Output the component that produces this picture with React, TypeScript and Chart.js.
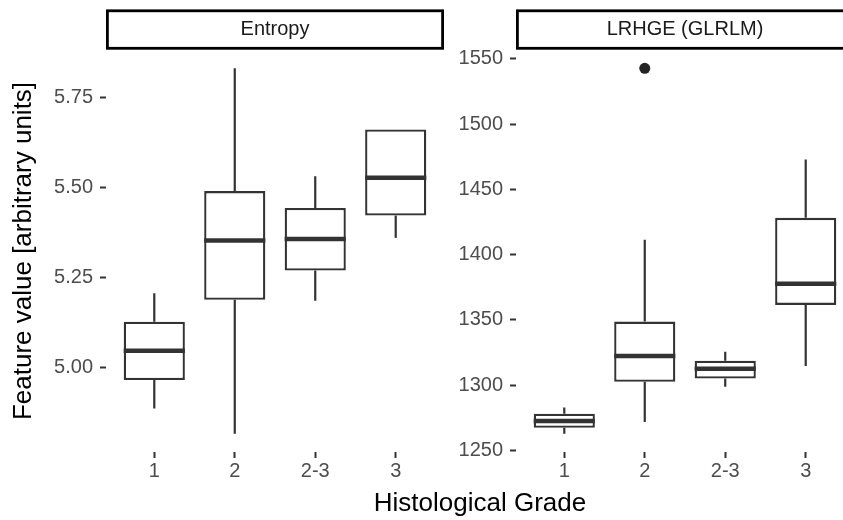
import { useEffect, useRef } from 'react';
import { Chart, registerables } from 'chart.js';

Chart.register(...registerables);

// ---- data ----
const grades = ['1', '2', '2-3', '3'];
const gradePositions = [1, 2, 3, 4];

const entropyLower = [4.885, 4.815, 5.184, 5.359];
const entropyQ1 = [4.964, 5.187, 5.268, 5.421];
const entropyMedian = [5.045, 5.352, 5.356, 5.526];
const entropyQ3 = [5.126, 5.489, 5.442, 5.66];
const entropyUpper = [5.205, 5.83, 5.53, 5.66];
const entropyTicks = [5.0, 5.25, 5.5, 5.75];

const lrhgeLower = [1262.8, 1271.8, 1298.7, 1314.6];
const lrhgeQ1 = [1267.4, 1302.6, 1305.1, 1361.5];
const lrhgeMedian = [1272.6, 1322.3, 1312.6, 1377.7];
const lrhgeQ3 = [1278.2, 1348.7, 1318.7, 1428.2];
const lrhgeUpper = [1282.8, 1411.5, 1325.6, 1473.0];
const lrhgeTicks = [1250, 1300, 1350, 1400, 1450, 1500, 1550];
const lrhgeOutlierGrade = [2];
const lrhgeOutlierValue = [1542.8];

// ---- style ----
const FONT = '"Liberation Sans", Arial, Helvetica, sans-serif';
const LINE = '#333333';

type PanelSpec = {
  lower: number[];
  q1: number[];
  median: number[];
  q3: number[];
  upper: number[];
  ticks: number[];
  yMin: number;
  yMax: number;
  fmt: (v: number) => string;
  strip: string;
  yTitle?: string;
  axisWidth: number;
  padRight: number;
  outX?: number[];
  outY?: number[];
  xTitle?: string;
  xTitleX?: number;
};

function buildConfig(p: PanelSpec): any {
  const datasets: any[] = [
    {
      type: 'bar',
      data: gradePositions.map((x, i) => ({ x, y: [p.q1[i], p.q3[i]] })),
      backgroundColor: '#ffffff',
      borderColor: LINE,
      borderWidth: 2.3,
      borderSkipped: false,
      barPercentage: 0.76,
      categoryPercentage: 1,
      order: 2,
    },
  ];
  if (p.outX && p.outY) {
    datasets.push({
      type: 'scatter',
      data: p.outX.map((x, i) => ({ x, y: p.outY![i] })),
      backgroundColor: '#222222',
      borderWidth: 0,
      pointRadius: 5.5,
      order: 1,
    });
  }

  const plugin = {
    id: 'boxparts',
    beforeDatasetsDraw(chart: any) {
      const { ctx } = chart;
      const y = chart.scales.y;
      const meta = chart.getDatasetMeta(0);
      ctx.save();
      ctx.strokeStyle = LINE;
      ctx.lineWidth = 2.2;
      meta.data.forEach((bar: any, i: number) => {
        ctx.beginPath();
        ctx.moveTo(bar.x, y.getPixelForValue(p.lower[i]));
        ctx.lineTo(bar.x, y.getPixelForValue(p.q1[i]));
        ctx.moveTo(bar.x, y.getPixelForValue(p.q3[i]));
        ctx.lineTo(bar.x, y.getPixelForValue(p.upper[i]));
        ctx.stroke();
      });
      ctx.restore();
    },
    afterDatasetsDraw(chart: any) {
      const { ctx } = chart;
      const y = chart.scales.y;
      const meta = chart.getDatasetMeta(0);
      ctx.save();
      ctx.strokeStyle = LINE;
      ctx.lineWidth = 4.5;
      ctx.lineCap = 'butt';
      meta.data.forEach((bar: any, i: number) => {
        const py = y.getPixelForValue(p.median[i]);
        ctx.beginPath();
        ctx.moveTo(bar.x - bar.width / 2, py);
        ctx.lineTo(bar.x + bar.width / 2, py);
        ctx.stroke();
      });
      ctx.restore();
    },
    afterDraw(chart: any) {
      const { ctx, chartArea } = chart;
      const { left, right, top } = chartArea;
      ctx.save();
      ctx.fillStyle = '#ffffff';
      ctx.fillRect(left, top - 40, right - left, 40);
      ctx.strokeStyle = '#000000';
      ctx.lineWidth = 2.8;
      ctx.strokeRect(left + 1.4, top - 39.2, right - left - 2.8, 37.5);
      ctx.fillStyle = '#1a1a1a';
      ctx.font = `20px ${FONT}`;
      ctx.textAlign = 'center';
      ctx.textBaseline = 'middle';
      ctx.fillText(p.strip, (left + right) / 2, top - 20.5);
      if (p.xTitle) {
        ctx.fillStyle = '#000000';
        ctx.font = `26px ${FONT}`;
        ctx.textAlign = 'center';
        ctx.textBaseline = 'alphabetic';
        ctx.fillText(p.xTitle, p.xTitleX ?? (left + right) / 2, 511);
      }
      ctx.restore();
    },
  };

  return {
    type: 'bar',
    data: { datasets },
    plugins: [plugin],
    options: {
      responsive: false,
      animation: false,
      devicePixelRatio: 1,
      layout: { padding: { top: 50, right: p.padRight, left: 0, bottom: 0 } },
      plugins: {
        legend: { display: false },
        tooltip: { enabled: false },
        title: { display: false },
      },
      scales: {
        x: {
          type: 'linear',
          min: 0.4,
          max: 4.6,
          offset: false,
          afterFit: (s: any) => {
            s.height = 68;
          },
          afterBuildTicks: (s: any) => {
            s.ticks = gradePositions.map((v) => ({ value: v }));
          },
          ticks: {
            color: '#4d4d4d',
            font: { family: FONT, size: 20 },
            padding: 1,
            maxRotation: 0,
            autoSkip: false,
            callback: (v: any) => grades[gradePositions.indexOf(Number(v))] ?? '',
          },
          grid: {
            display: true,
            offset: false,
            drawOnChartArea: false,
            drawTicks: true,
            tickLength: 6,
            tickWidth: 2,
            tickColor: LINE,
            color: LINE,
          },
          border: { display: false },
        },
        y: {
          type: 'linear',
          min: p.yMin,
          max: p.yMax,
          afterFit: (s: any) => {
            s.width = p.axisWidth;
          },
          afterBuildTicks: (s: any) => {
            s.ticks = p.ticks.map((v) => ({ value: v }));
          },
          ticks: {
            color: '#4d4d4d',
            font: { family: FONT, size: 20 },
            padding: 7,
            callback: (v: any) => p.fmt(Number(v)),
          },
          grid: {
            display: true,
            drawOnChartArea: false,
            drawTicks: true,
            tickLength: 6,
            tickWidth: 2,
            tickColor: LINE,
            color: LINE,
          },
          border: { display: false },
          title: p.yTitle
            ? {
                display: true,
                text: p.yTitle,
                color: '#000000',
                font: { family: FONT, size: 26 },
                padding: { top: 8, bottom: 0 },
              }
            : { display: false },
        },
      },
    },
  };
}

export default function App() {
  const leftRef = useRef<HTMLCanvasElement>(null);
  const rightRef = useRef<HTMLCanvasElement>(null);

  useEffect(() => {
    const left = new Chart(
      leftRef.current!,
      buildConfig({
        lower: entropyLower,
        q1: entropyQ1,
        median: entropyMedian,
        q3: entropyQ3,
        upper: entropyUpper,
        ticks: entropyTicks,
        yMin: 4.764,
        yMax: 5.881,
        fmt: (v) => v.toFixed(2),
        strip: 'Entropy',
        yTitle: 'Feature value [arbitrary units]',
        axisWidth: 106,
        padRight: 399,
        xTitle: 'Histological Grade',
        xTitleX: 480,
      })
    );
    const right = new Chart(
      rightRef.current!,
      buildConfig({
        lower: lrhgeLower,
        q1: lrhgeQ1,
        median: lrhgeMedian,
        q3: lrhgeQ3,
        upper: lrhgeUpper,
        ticks: lrhgeTicks,
        yMin: 1248.8,
        yMax: 1556.8,
        fmt: (v) => String(Math.round(v)),
        strip: 'LRHGE (GLRLM)',
        axisWidth: 76,
        padRight: 6,
        outX: lrhgeOutlierGrade,
        outY: lrhgeOutlierValue,
      })
    );
    return () => {
      left.destroy();
      right.destroy();
    };
  }, []);

  return (
    <div
      style={{
        position: 'fixed',
        left: 0,
        top: 0,
        width: 843,
        height: 520,
        overflow: 'hidden',
        background: '#ffffff',
      }}
    >
      <canvas
        ref={leftRef}
        width={843}
        height={520}
        style={{ position: 'absolute', left: 0, top: 0, width: 843, height: 520 }}
      />
      <canvas
        ref={rightRef}
        width={420}
        height={520}
        style={{ position: 'absolute', left: 440, top: 0, width: 420, height: 520 }}
      />
    </div>
  );
}
